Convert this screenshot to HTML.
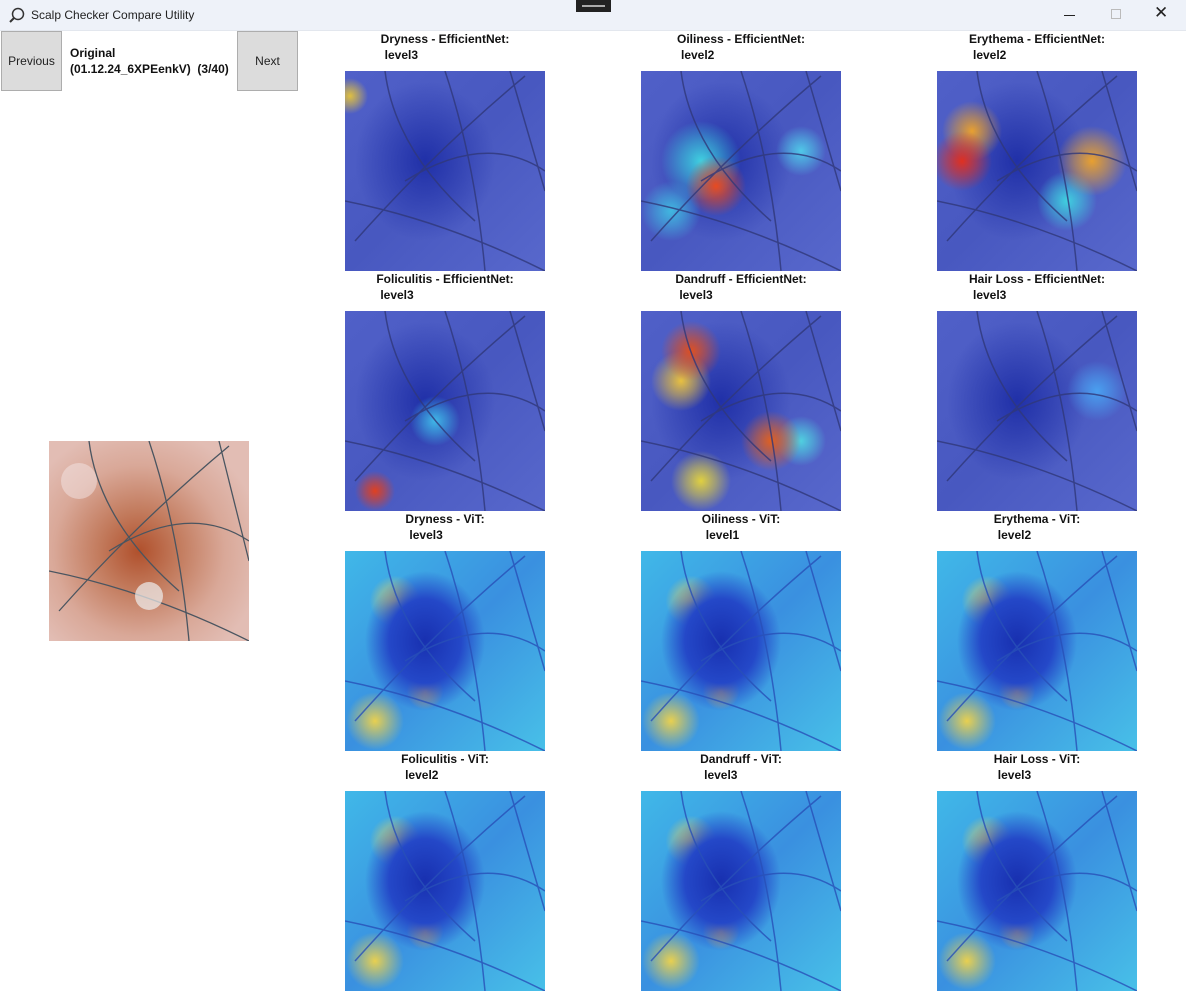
<!DOCTYPE html>
<html><head><meta charset="utf-8">
<style>
*{box-sizing:border-box;margin:0;padding:0}
body{width:1186px;height:993px;overflow:hidden;background:#fff;font-family:"Liberation Sans",sans-serif;position:relative}
#titlebar{position:absolute;left:0;top:0;width:1186px;height:31px;background:#eef2f9;border-bottom:1px solid #e3e7ee}
#title{position:absolute;left:31px;top:8px;font-size:12px;color:#222}
.btn{position:absolute;width:61px;height:60px;background:#dcdcdc;border:1px solid #adadad;font-size:12px;color:#222;display:flex;align-items:center;justify-content:center}
.lbl{position:absolute;font-size:12px;font-weight:bold;color:#111;line-height:16px;white-space:nowrap}
.lbl span{display:block;padding-left:4px}
.tile{position:absolute;width:200px;height:200px;overflow:hidden}
.tile svg{position:absolute;left:0;top:0}
#orig{position:absolute;left:49px;top:441px;width:200px;height:200px;overflow:hidden;background:radial-gradient(circle at 45% 55%,#b0502c 0,#c27a5c 25%,#d9a898 55%,#e2bdb4 80%)}
</style></head><body>
<div id="titlebar">
<svg style="position:absolute;left:9px;top:7px" width="16" height="16"><circle cx="9" cy="7" r="5.5" fill="none" stroke="#333" stroke-width="1.5"/><line x1="5" y1="11" x2="1" y2="15" stroke="#333" stroke-width="2"/></svg>
<div id="title">Scalp Checker Compare Utility</div>
<div style="position:absolute;left:576px;top:0;width:35px;height:12px;background:#222"><div style="margin:5px 6px;height:2px;border-top:1px solid #aaa;border-bottom:1px solid #aaa"></div></div>
<div style="position:absolute;left:1064px;top:15px;width:11px;height:1px;background:#222"></div>
<div style="position:absolute;left:1111px;top:9px;width:10px;height:10px;border:1px solid #bbb"></div>
<div style="position:absolute;left:1154px;top:3px;font-size:17px;color:#222">✕</div>
</div>
<div class="btn" style="left:1px;top:31px">Previous</div>
<div class="btn" style="left:237px;top:31px">Next</div>
<div class="lbl" style="left:70px;top:45px;line-height:16px">Original<br>(01.12.24_6XPEenkV)&nbsp; (3/40)</div>
<div id="orig">
<svg width="200" height="200"><g stroke="#4a5560" stroke-width="1.3" fill="none"><path d="M0 130 Q100 150 200 200"/><path d="M10 170 Q90 80 180 5"/><path d="M100 0 Q130 90 140 200"/><path d="M170 0 L200 120"/><path d="M40 0 Q50 80 130 150"/><path d="M60 110 Q140 60 200 100"/></g><circle cx="100" cy="155" r="14" fill="#eee" opacity=".7"/><circle cx="30" cy="40" r="18" fill="#f3e6e6" opacity=".5"/></svg>
</div>
<div id="grid"></div>
<script>
const titles=[["Dryness - EfficientNet:","level3"],["Oiliness - EfficientNet:","level2"],["Erythema - EfficientNet:","level2"],
["Foliculitis - EfficientNet:","level3"],["Dandruff - EfficientNet:","level3"],["Hair Loss - EfficientNet:","level3"],
["Dryness - ViT:","level3"],["Oiliness - ViT:","level1"],["Erythema - ViT:","level2"],
["Foliculitis - ViT:","level2"],["Dandruff - ViT:","level3"],["Hair Loss - ViT:","level3"]];
const spots=[
[[5,25,18,"#e0c040"]],
[[75,115,30,"#e84a20"],[60,90,40,"#40d0e0"],[160,80,25,"#50c8e8"],[30,140,30,"#40b8e0"]],
[[25,90,30,"#e03020"],[35,60,30,"#e8a030"],[155,90,35,"#e8a030"],[130,130,30,"#40d0e0"]],
[[30,180,20,"#e04020"],[90,110,25,"#40b8e8"]],
[[50,40,30,"#e05020"],[40,70,30,"#e8c040"],[130,130,30,"#e06020"],[60,170,30,"#e0d040"],[160,130,25,"#50d0e0"]],
[[160,80,30,"#4aa0f0"]]];
const grid=document.getElementById('grid');
const xs=[345,641,937],ys=[71,311,551,791];
titles.forEach((t,i)=>{
 const x=xs[i%3],y=ys[Math.floor(i/3)],vit=i>=6;
 const l=document.createElement('div');l.className='lbl';
 
 
 l.style.left=(x+100)+'px';l.style.top=(y-40)+'px';l.style.transform='translateX(-50%)';
 l.innerHTML=t[0]+'<span>'+t[1]+'</span>';grid.appendChild(l);
 const d=document.createElement('div');d.className='tile';
 
 
 d.style.left=x+'px';d.style.top=y+'px';
 let bg;
 if(vit){bg='radial-gradient(ellipse 60px 70px at 80px 90px,#1830b0 0,#2448c8 60%,transparent 100%),radial-gradient(circle at 50px 50px,#e0d060 0,transparent 12%),radial-gradient(circle at 80px 140px,#f0c050 0,transparent 10%),radial-gradient(circle at 30px 170px,#e8d050 0,transparent 12%),linear-gradient(135deg,#40b8e8,#3a90e0 50%,#48c0e8)';}
 else{bg=(spots[i]||[]).map(s=>`radial-gradient(circle at ${s[0]}px ${s[1]}px,${s[3]} 0,${s[3]}88 ${s[2]*0.5}px,transparent ${s[2]}px)`).join(',');
 bg=(bg?bg+',':'')+'radial-gradient(ellipse 70px 80px at 80px 90px,#2030a8 0,transparent 100%),linear-gradient(135deg,#5060c8,#4858c0 50%,#5868cc)';}
 d.style.background=bg;
 d.innerHTML='<svg width="200" height="200"><g stroke="'+(vit?'#2850b8':'#30387a')+'" stroke-width="1.5" fill="none" opacity=".8"><path d="M0 130 Q100 150 200 200"/><path d="M10 170 Q90 80 180 5"/><path d="M100 0 Q130 90 140 200"/><path d="M165 0 L200 120"/><path d="M40 0 Q50 80 130 150"/><path d="M60 110 Q140 60 200 100"/></g></svg>';
 grid.appendChild(d);
});
</script>
</body></html>
